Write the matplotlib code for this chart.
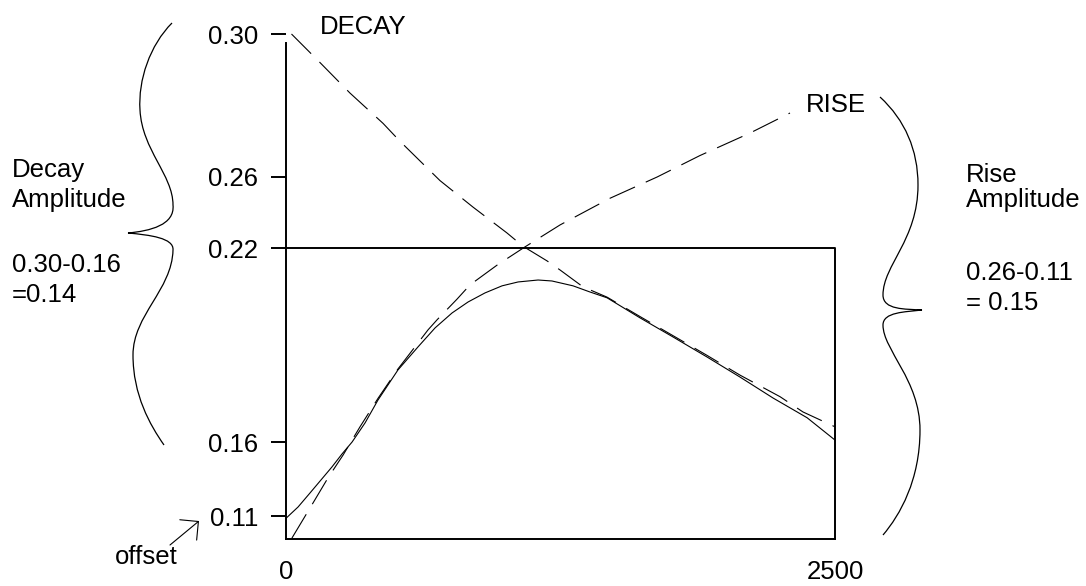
import numpy as np
import matplotlib
matplotlib.use("Agg")
import matplotlib.pyplot as plt
from matplotlib.path import Path
from matplotlib.patches import PathPatch, FancyArrowPatch

plt.rcParams['font.family'] = ['Liberation Sans', 'DejaVu Sans']
plt.rcParams['lines.scale_dashes'] = False

# ---- data ----
ytick_vals = [0.11, 0.16, 0.22, 0.26, 0.30]
ytick_labels = ['0.11', '0.16', '0.22', '0.26', '0.30']
xtick_vals = [0, 2500]
xtick_labels = ['0', '2500']

# measured response (solid)
resp_x = [0, 55, 109, 159, 209, 255, 301, 360, 419, 510, 601, 679, 756,
          829, 906, 984, 1057, 1148, 1211, 1307, 1384, 1462, 1612, 1762,
          1917, 2067, 2218, 2373, 2500]
resp_y = [0.109, 0.1161, 0.1255, 0.1343, 0.1431, 0.1519, 0.160, 0.1659,
          0.1730, 0.1823, 0.1894, 0.1953, 0.1999, 0.2033, 0.2061, 0.2083,
          0.2095, 0.2101, 0.2098, 0.2083, 0.2064, 0.2046, 0.1984, 0.1925,
          0.1863, 0.1801, 0.1736, 0.1675, 0.1606]

# decay component (dashed)
decay_x = [25, 155, 291, 442, 519, 701, 852, 1006, 1079, 1189, 1248, 1352,
           1462, 1612, 1762, 1917, 2067, 2250, 2354, 2500]
decay_y = [0.300, 0.292, 0.2835, 0.275, 0.270, 0.258, 0.243, 0.2285, 0.221,
           0.216, 0.2132, 0.208, 0.2048, 0.1988, 0.1929, 0.1868, 0.1807,
           0.174, 0.1693, 0.1647]

# rise component (dashed)
rise_x = [27, 123, 191, 260, 337, 419, 510, 647, 688, 779, 838, 961, 1088,
          1248, 1475, 1690, 1885, 2113, 2295]
rise_y = [0.1004, 0.1188, 0.1357, 0.1512, 0.1647, 0.1735, 0.1826, 0.1947,
          0.1978, 0.2042, 0.2086, 0.2147, 0.2206, 0.233, 0.248, 0.260,
          0.266, 0.2723, 0.2779]

# the sketch's y axis is not linear: value -> height above x axis (px)
scale_vals = [0.0, 0.10, 0.11, 0.16, 0.22, 0.26, 0.30, 1.0]
scale_pos = [-230, 0, 23, 97, 291, 362, 505, 3008]

def fwd(v):
    return np.interp(v, scale_vals, scale_pos)

def inv(p):
    return np.interp(p, scale_pos, scale_vals)

# curly braces drawn next to the plot (figure pixels, bezier control points)
left_brace = [(172, 23), (150, 45), (138, 80), (140, 110), (142, 150), (173, 175),
              (173, 205), (175, 225), (150, 231), (128, 233), (150, 235), (174, 238),
              (173, 250), (172, 290), (133, 315), (133, 355), (133, 395), (150, 425),
              (164, 445)]
right_brace = [(880, 97), (905, 120), (918, 150), (918, 185), (918, 240), (883, 265),
               (883, 295), (883, 310), (905, 309), (922, 310), (905, 312), (883, 312),
               (883, 325), (883, 350), (920, 380), (920, 430), (920, 480), (900, 515),
               (883, 535)]

fs = 18.5
fig = plt.figure(figsize=(10.86, 5.86), dpi=100)
ax = fig.add_axes([286/1086, 47/586, 549/1086, 505/586])
ax.set_yscale('function', functions=(fwd, inv))
ax.set_xlim(0, 2500)
ax.set_ylim(0.10, 0.30)

dash = (0, (20, 8.5))
ax.plot(resp_x, resp_y, color='black', lw=0.8, clip_on=False)
ax.plot(decay_x, decay_y, color='black', lw=0.8, linestyle=dash, clip_on=False)
ax.plot(rise_x, rise_y, color='black', lw=0.8, linestyle=dash, clip_on=False)

# box closing the plot at 0.22
ax.plot([0, 2500, 2500], [0.22, 0.22, 0.10], color='black', lw=1.4, clip_on=False)

for s in ['top', 'right']:
    ax.spines[s].set_visible(False)
ax.spines['left'].set_bounds(0.10, 0.2975)
for s in ['left', 'bottom']:
    ax.spines[s].set_linewidth(1.4)

ax.set_yticks(ytick_vals)
ax.set_yticklabels(ytick_labels)
ax.set_xticks(xtick_vals)
ax.set_xticklabels(xtick_labels)
ax.tick_params(axis='y', direction='out', length=11, width=1.4, pad=9, labelsize=fs)
ax.tick_params(axis='x', length=0, pad=15, labelsize=fs)
ax.yaxis.set_minor_locator(matplotlib.ticker.NullLocator())

ax.text(155, 0.302, 'DECAY', fontsize=fs, va='center', ha='left')
ax.text(2368, 0.280, 'RISE', fontsize=fs, va='center', ha='left')

# overlay in figure pixels for the annotations
ov = fig.add_axes([0, 0, 1, 1])
ov.set_xlim(0, 1086)
ov.set_ylim(586, 0)
ov.axis('off')

for pts in (left_brace, right_brace):
    codes = [Path.MOVETO] + [Path.CURVE4] * (len(pts) - 1)
    ov.add_patch(PathPatch(Path(pts, codes), facecolor='none', edgecolor='black', lw=0.9))

for txt, yb in [('Decay', 177), ('Amplitude', 207), ('0.30-0.16', 272), ('=0.14', 302)]:
    ov.text(12, yb, txt, fontsize=fs, va='baseline', ha='left')
for txt, yb in [('Rise', 182), ('Amplitude', 207), ('0.26-0.11', 280), ('= 0.15', 310)]:
    ov.text(966, yb, txt, fontsize=fs, va='baseline', ha='left')

ov.text(146, 564, 'offset', fontsize=fs, va='baseline', ha='center')
ov.add_patch(FancyArrowPatch((170, 545), (199, 521), arrowstyle='->,head_length=0.95,head_width=0.95',
                             mutation_scale=10, lw=0.8, color='black', shrinkA=0, shrinkB=0))

fig.savefig('out.png', dpi=100, facecolor='white')
